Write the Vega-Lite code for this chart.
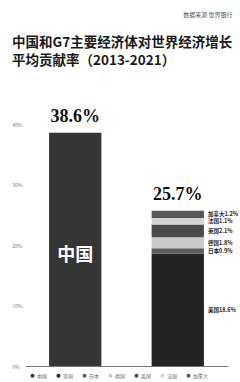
{
  "$schema": "https://vega.github.io/schema/vega-lite/v6.json",
  "width": 203,
  "height": 272,
  "autosize": {"type": "none"},
  "padding": {"left": 25, "top": 94, "right": 12, "bottom": 16},
  "background": "white",
  "title": {
    "text": ["中国和G7主要经济体对世界经济增长", "平均贡献率（2013-2021）"],
    "anchor": "start",
    "frame": "group",
    "dx": -13,
    "dy": 84,
    "offset": 28,
    "font": "Noto Sans CJK SC",
    "fontSize": 13.5,
    "fontWeight": "bold",
    "color": "#1a1a1a",
    "lineHeight": 18
  },
  "datasets": {
    "main": [
      {"group": "中国", "country": "中国", "value": 38.6, "rank": 1, "label": "中国"},
      {"group": "G7", "country": "美国", "value": 18.6, "rank": 1, "label": "美国18.6%"},
      {"group": "G7", "country": "日本", "value": 0.9, "rank": 2, "label": "日本0.9%"},
      {"group": "G7", "country": "德国", "value": 1.8, "rank": 3, "label": "德国1.8%"},
      {"group": "G7", "country": "英国", "value": 2.1, "rank": 4, "label": "英国2.1%"},
      {"group": "G7", "country": "法国", "value": 1.1, "rank": 5, "label": "法国1.1%"},
      {"group": "G7", "country": "加拿大", "value": 1.2, "rank": 6, "label": "加拿大1.2%"}
    ],
    "totals": [
      {"group": "中国", "total": 38.6, "label": "38.6%"},
      {"group": "G7", "total": 25.7, "label": "25.7%"}
    ]
  },
  "layer": [
    {
      "data": {"name": "main"},
      "mark": {"type": "bar"},
      "encoding": {
        "x": {
          "field": "group", "type": "nominal", "sort": ["中国", "G7"],
          "scale": {"paddingInner": 0.49, "paddingOuter": 0.235},
          "axis": {"labels": false, "ticks": false, "title": null, "domainColor": "#777", "domainWidth": 1}
        },
        "y": {
          "field": "value", "type": "quantitative", "stack": "zero",
          "scale": {"domain": [0, 45], "nice": false},
          "axis": {
            "values": [0, 5, 10, 15, 20, 25, 30, 35, 40, 45],
            "labelExpr": "datum.value + '%'",
            "labelFontSize": 5, "labelColor": "#777", "labelAlign": "left", "labelPadding": 13,
            "labelFont": "Noto Sans CJK SC",
            "domain": false, "ticks": false, "grid": false,
            "title": "数据来源  世界银行", "titleAngle": 0, "titleX": 207, "titleY": -80,
            "titleAlign": "right", "titleBaseline": "middle", "titleFontSize": 6,
            "titleColor": "#555", "titleFontWeight": "normal", "titleFont": "Noto Sans CJK SC"
          }
        },
        "color": {
          "field": "country", "type": "nominal",
          "scale": {
            "domain": ["中国", "美国", "日本", "德国", "英国", "法国", "加拿大"],
            "range": ["#353535", "#232323", "#5e5e5e", "#c9c9c9", "#4a4a4a", "#d4d4d4", "#595959"]
          },
          "legend": {
            "orient": "none", "legendX": 5, "legendY": 279, "direction": "horizontal", "columns": 7,
            "title": null, "symbolType": "circle", "symbolSize": 16, "symbolStrokeWidth": 0,
            "labelFontSize": 5, "labelColor": "#666", "labelFont": "Noto Sans CJK SC",
            "columnPadding": 8, "labelOffset": 2
          }
        },
        "order": {"field": "rank", "type": "quantitative", "sort": "ascending"}
      }
    },
    {
      "data": {"name": "totals"},
      "mark": {"type": "text", "baseline": "alphabetic", "dy": -11, "fontSize": 18, "font": "Liberation Serif", "fontWeight": "bold", "color": "#111"},
      "encoding": {
        "x": {"field": "group", "type": "nominal", "sort": ["中国", "G7"]},
        "y": {"field": "total", "type": "quantitative"},
        "text": {"field": "label"}
      }
    },
    {
      "data": {"name": "main"},
      "transform": [{"filter": "datum.group === '中国'"}],
      "mark": {"type": "text", "baseline": "middle", "fontSize": 18, "font": "Noto Sans CJK SC", "fontWeight": "bold", "color": "white"},
      "encoding": {
        "x": {"field": "group", "type": "nominal", "sort": ["中国", "G7"]},
        "y": {"field": "value", "type": "quantitative", "stack": "zero", "bandPosition": 0.47},
        "text": {"field": "label"}
      }
    },
    {
      "data": {"name": "main"},
      "transform": [{"filter": "datum.group === 'G7'"}],
      "mark": {"type": "text", "baseline": "middle", "align": "left", "dx": 4, "fontSize": 5.5, "font": "Noto Sans CJK SC", "fontWeight": "bold", "color": "#222"},
      "encoding": {
        "x": {"field": "group", "type": "nominal", "sort": ["中国", "G7"], "bandPosition": 1},
        "y": {"field": "value", "type": "quantitative", "stack": "zero", "bandPosition": 0.5},
        "order": {"field": "rank", "type": "quantitative", "sort": "ascending"},
        "text": {"field": "label"}
      }
    }
  ],
  "config": {"view": {"stroke": null}}
}
